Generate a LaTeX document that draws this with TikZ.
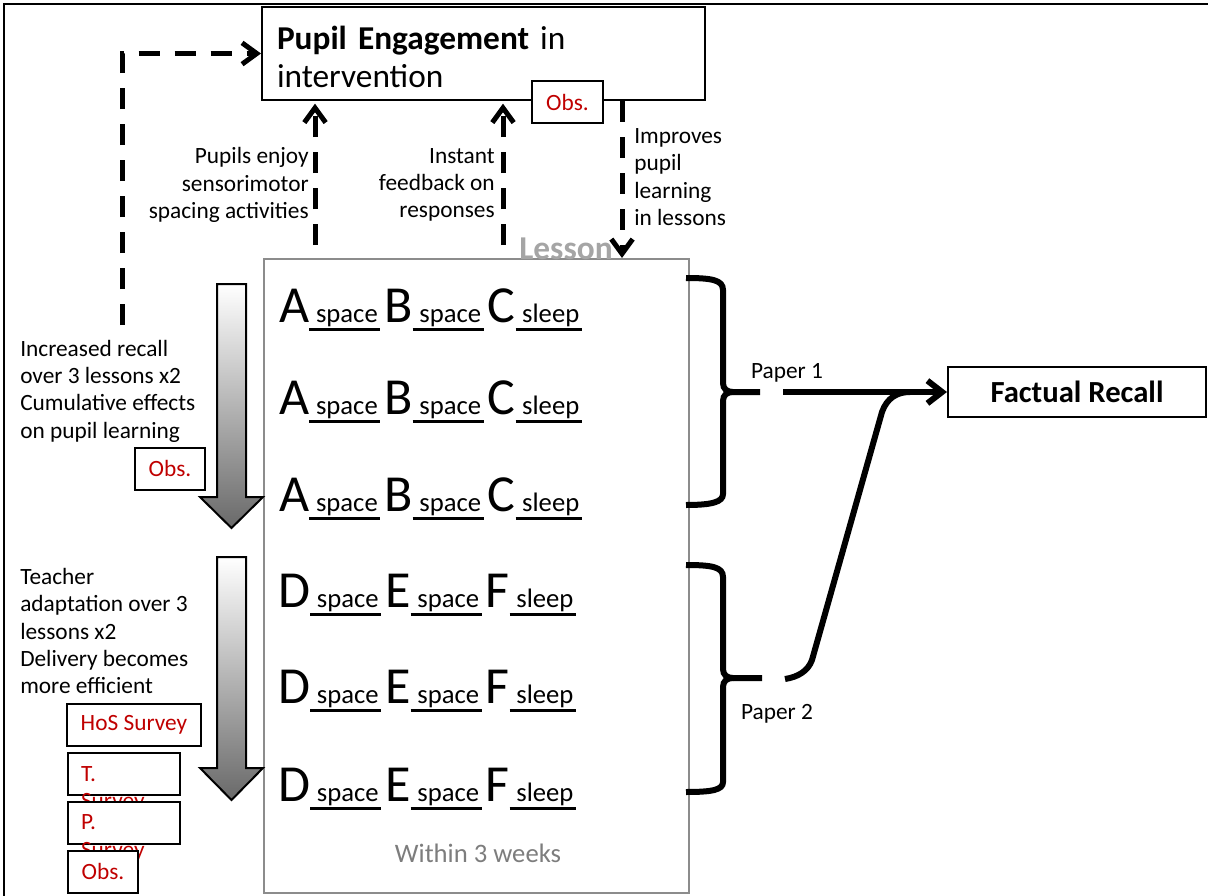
\documentclass[tikz,border=0pt]{standalone}
\usepackage{fontspec}
\setmainfont{Carlito}
\usetikzlibrary{arrows.meta}

\definecolor{obsred}{RGB}{192,0,0}
\definecolor{framegray}{RGB}{140,140,140}
\definecolor{lessongray}{RGB}{165,165,165}
\definecolor{weekgray}{RGB}{125,125,125}
\definecolor{arrowgray}{RGB}{105,105,105}

\newcommand\notefont{\fontsize{17.5}{20.5}\selectfont}
\newcommand\engfont{\fontsize{25}{28.5}\selectfont}
\newcommand\letterfont{\fontsize{39}{42}\selectfont}
\newcommand\gapfont{\fontsize{20}{22}\selectfont}
% word under a thick line between two items
\newcommand\gapword[1]{\setbox0\hbox{\gapfont\hspace{5pt}#1\hspace{2pt}}\rlap{\rule[-7pt]{\wd0}{2.7pt}}\box0\hspace{3pt}}
\newcommand\lessonrow[4]{{\letterfont#1}\gapword{space}{\letterfont#2}\gapword{space}{\letterfont#3}\gapword{#4}}

\tikzset{
  box/.style={draw, line width=1.5pt, fill=white, inner sep=0pt},
  obsbox/.style={box, text=obsred, font=\notefont, minimum height=31.5pt},
  note/.style={font=\notefont, inner sep=0pt},
  rowtext/.style={anchor=base west, inner sep=0pt},
  lessonframe/.style={draw=framegray, line width=1.5pt, inner sep=0pt},
  dasharrow/.style={line width=3.75pt, dash pattern=on 16pt off 11pt, -{Straight Barb[length=11pt,width=16pt]}},
  bracepath/.style={line width=4.5pt},
  recallarrow/.style={line width=4.5pt, -{Straight Barb[length=11pt,width=17pt]}},
  flowarrow/.style={draw=black, line width=1.5pt, top color=white, bottom color=arrowgray}
}

\begin{document}
\begin{tikzpicture}[x=0.75pt,y=-0.75pt]
\useasboundingbox (0,0) rectangle (1208,896);
\draw[line width=1.5pt] (1208,4) -- (4,4) -- (4,896);

% lesson block
\draw (476.5,576) node[lessonframe, minimum width=318.75pt, minimum height=475.5pt](lesson){};
\draw (566,249) node[inner sep=0pt, text=lessongray, font=\fontsize{25}{27}\selectfont\bfseries](lessonlbl){Lesson};
\draw (478,853) node[inner sep=0pt, text=weekgray, font=\fontsize{20}{22}\selectfont](weeks){Within 3 weeks};

\draw (279,322) node[rowtext](rowA){\lessonrow{A}{B}{C}{sleep}};
\draw (279,414) node[rowtext](rowB){\lessonrow{A}{B}{C}{sleep}};
\draw (279,511) node[rowtext](rowC){\lessonrow{A}{B}{C}{sleep}};
\draw (278,607) node[rowtext](rowD){\lessonrow{D}{E}{F}{sleep}};
\draw (278,703) node[rowtext](rowE){\lessonrow{D}{E}{F}{sleep}};
\draw (278,801) node[rowtext](rowF){\lessonrow{D}{E}{F}{sleep}};

% engagement
\draw (483.5,53.5) node[box, minimum width=332.25pt, minimum height=69.75pt](eng){};
\draw (eng.center) ++(0,3) node[inner sep=0pt, align=left, text width=309.75pt, font=\engfont](engtext){\textbf{Pupil Engagement} in\\intervention};
\draw (567.5,102) node[obsbox, minimum width=53.25pt](obsA){Obs.};

\coordinate (rise) at (122,325);
\coordinate (upA) at (315,245);
\coordinate (upB) at (503,245);
\coordinate (down) at (622,258);
\draw[dasharrow] (rise) |- (eng.west);
\draw[dasharrow] (upA) -- ([yshift=-2pt]upA |- eng.south);
\draw[dasharrow] (upB) -- ([yshift=-2pt]upB |- eng.south);
\draw[dasharrow] (eng.south -| down) -- (down);

\draw (309,185) node[note, anchor=east, align=right](enjoy){Pupils enjoy\\sensorimotor\\spacing activities};
\draw (495,185) node[note, anchor=east, align=right](feedback){Instant\\feedback on\\responses};
\draw (634,177) node[note, anchor=west, align=left](improves){Improves\\pupil\\learning\\in lessons};

% left side
\shadedraw[flowarrow] (217,284) -- (246,284) -- (246,497) -- (263,497) -- (231.5,528) -- (200,497) -- (217,497) -- cycle;
\shadedraw[flowarrow] (217,557) -- (246,557) -- (246,768) -- (263,768) -- (231.5,800) -- (200,768) -- (217,768) -- cycle;

\draw (20,391) node[note, anchor=west, align=left](recall){Increased recall\\over 3 lessons x2\\Cumulative effects\\on pupil learning};
\draw (170,468.5) node[obsbox, minimum width=52.5pt](obsB){Obs.};

\draw (20,631) node[note, anchor=west, align=left](teacher){Teacher\\adaptation over 3\\lessons x2\\Delivery becomes\\more efficient};
\draw (134,725) node[obsbox, minimum width=100.5pt](hos){HoS Survey};
\draw (67,774) node[obsbox, anchor=west, minimum width=84pt, align=left, inner xsep=9.75pt, text width=64.5pt](tsurvey){\raisebox{0pt}[\height][0pt]{\vtop{\hbox{T.}\hbox{Survey}}}};
\draw (67,822.5) node[obsbox, anchor=west, minimum width=84pt, align=left, inner xsep=9.75pt, text width=64.5pt](psurvey){\raisebox{0pt}[\height][0pt]{\vtop{\hbox{P.}\hbox{Survey}}}};
\draw (103,871.5) node[obsbox, minimum width=52.5pt](obsC){Obs.};

% papers
\draw[bracepath] (686,278) .. controls (712,278) and (723,280) .. (723,290) -- (723,383) .. controls (723,389) and (727,392) .. (733,392) -- (760,392);
\draw[bracepath] (733,392) .. controls (727,392) and (723,395) .. (723,401) -- (723,494) .. controls (723,502) and (712,505) .. (686,505);
\draw[bracepath] (686,565) .. controls (712,565) and (723,567) .. (723,577) -- (723,669) .. controls (723,675) and (727,678) .. (733,678) -- (762,678);
\draw[bracepath] (733,678) .. controls (727,678) and (723,681) .. (723,687) -- (723,782) .. controls (723,790) and (712,792) .. (686,792);
\draw (787,373) node[note](paperA){Paper 1};
\draw (777,714) node[note](paperB){Paper 2};

\draw (1077,392) node[box, minimum width=193.5pt, minimum height=37.5pt, font=\fontsize{23}{25}\selectfont\bfseries](factual){Factual Recall};
\coordinate (outA) at (783,392);
\coordinate (outB) at (785,679);
\coordinate (join) at (910,392);
\draw[recallarrow] (outA) -- (factual.west);
\draw[bracepath] (outB) .. controls (798,677) and (808,671) .. (812,660) -- (882,412) .. controls (887,398) and (897,392) .. (join);
\end{tikzpicture}
\end{document}
